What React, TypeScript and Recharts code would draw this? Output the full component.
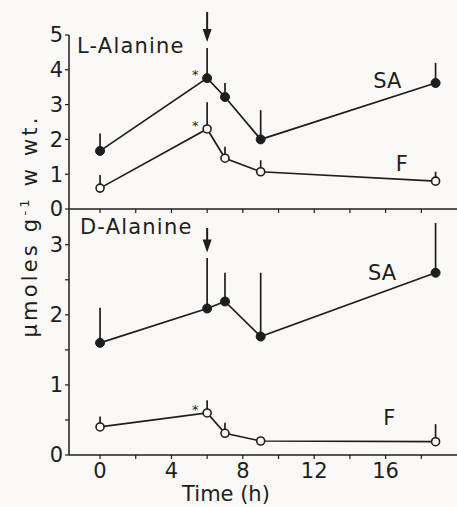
import React from 'react';
import { LineChart, Line, XAxis, YAxis, ErrorBar, LabelList, ReferenceLine, ReferenceDot } from 'recharts';

const times = [0, 6, 7, 9, 18.8];

// L-Alanine panel
const lSA = [1.67, 3.76, 3.22, 2.0, 3.62];
const lSAErr = [0.5, 0.87, 0.4, 0.84, 0.58];
const lSAStar = ['', '*', '', '', ''];
const lF = [0.6, 2.3, 1.46, 1.07, 0.8];
const lFErr = [0.38, 0.77, 0.33, 0.33, 0.27];
const lFStar = ['', '*', '', '', ''];

// D-Alanine panel
const dSA = [1.6, 2.09, 2.19, 1.69, 2.6];
const dSAErr = [0.5, 0.72, 0.41, 0.91, 0.71];
const dSAStar = ['', '', '', '', ''];
const dF = [0.4, 0.6, 0.31, 0.2, 0.19];
const dFErr = [0.15, 0.18, 0.15, 0.05, 0.25];
const dFStar = ['', '*', '', '', ''];

const xTicks = [0, 2, 4, 6, 8, 10, 12, 14, 16, 18];
const lTicks = [0, 1, 2, 3, 4, 5];
const dTicks = [0, 0.5, 1, 1.5, 2, 2.5, 3];

const topData = times.map((t, i) => ({
  t,
  sa: lSA[i], saErr: [0, lSAErr[i]], saStar: lSAStar[i],
  f: lF[i], fErr: [0, lFErr[i]], fStar: lFStar[i],
}));
const botData = times.map((t, i) => ({
  t,
  sa: dSA[i], saErr: [0, dSAErr[i]], saStar: dSAStar[i],
  f: dF[i], fErr: [0, dFErr[i]], fStar: dFStar[i],
}));

const INK = '#1e1e1e';
const BG = '#fbf9f6';
const FONT = '"DejaVu Sans", sans-serif';
const tickStyle = { fill: INK, fontSize: 21, fontFamily: FONT };

const Star = (props: any) => {
  const { x, y, value } = props;
  if (!value) return null;
  return (
    <text x={x - 12} y={y + 1} fontSize={13} fill={INK} fontFamily={FONT} textAnchor="middle">
      {value}
    </text>
  );
};

const Arrow = (props: any) => {
  const { x1, y1, x2, y2 } = props;
  return (
    <g>
      <line x1={x1} y1={y1} x2={x2} y2={y2 - 10} stroke={INK} strokeWidth={2} />
      <polygon points={`${x2 - 4.5},${y2 - 13} ${x2 + 4.5},${y2 - 13} ${x2},${y2}`} fill={INK} />
    </g>
  );
};

const seriesText = { fill: INK, fontSize: 21, fontFamily: FONT };

const Panel = ({ data, top, height, marginTop, axisH, yDomain, yTicks, yFmt, xFmt, arrow, saLabel, fLabel, xLabel }: any) => (
  <div style={{ position: 'absolute', left: 0, top }}>
    <LineChart width={457} height={height} data={data} margin={{ top: marginTop, right: 0, left: 0, bottom: 0 }}>
      <XAxis
        dataKey="t"
        type="number"
        domain={[-1.74, 20]}
        ticks={xTicks}
        tickFormatter={xFmt}
        height={axisH}
        tickSize={4}
        tickMargin={4}
        tick={tickStyle}
        axisLine={{ stroke: INK, strokeWidth: 1.5 }}
        tickLine={{ stroke: INK, strokeWidth: 1.2 }}
        allowDataOverflow
        label={xLabel ? { value: 'Time (h)', position: 'insideBottom', offset: 6, dx: -37, style: tickStyle } : undefined}
      />
      <YAxis
        type="number"
        domain={yDomain}
        ticks={yTicks}
        tickFormatter={yFmt}
        width={69}
        tickSize={4}
        tickMargin={2}
        tick={tickStyle}
        axisLine={{ stroke: INK, strokeWidth: 1.5 }}
        tickLine={{ stroke: INK, strokeWidth: 1.2 }}
        allowDataOverflow
        interval={0}
      />
      <ReferenceLine
        segment={[{ x: 6, y: arrow[0] }, { x: 6, y: arrow[1] }]}
        ifOverflow="visible"
        shape={Arrow}
      />
      <Line
        dataKey="sa"
        stroke={INK}
        strokeWidth={1.7}
        isAnimationActive={false}
        dot={{ r: 4.5, fill: INK, stroke: INK, strokeWidth: 1 }}
        activeDot={false}
      >
        <ErrorBar dataKey="saErr" direction="y" width={0} stroke={INK} strokeWidth={1.7} />
        <LabelList dataKey="saStar" content={Star} />
      </Line>
      <Line
        dataKey="f"
        stroke={INK}
        strokeWidth={1.7}
        isAnimationActive={false}
        dot={{ r: 4, fill: BG, stroke: INK, strokeWidth: 1.6 }}
        activeDot={false}
      >
        <ErrorBar dataKey="fErr" direction="y" width={0} stroke={INK} strokeWidth={1.7} />
        <LabelList dataKey="fStar" content={Star} />
      </Line>
      <ReferenceDot x={saLabel[0]} y={saLabel[1]} r={0} fill="none" stroke="none"
        label={{ value: 'SA', position: 'center', style: seriesText }} />
      <ReferenceDot x={fLabel[0]} y={fLabel[1]} r={0} fill="none" stroke="none"
        label={{ value: 'F', position: 'center', style: seriesText }} />
    </LineChart>
  </div>
);

export default function App() {
  return (
    <div style={{ position: 'absolute', left: 0, top: 0, width: 457, height: 507, background: BG, overflow: 'hidden' }}>
      <Panel
        data={botData}
        top={200}
        height={307}
        marginTop={9}
        axisH={52}
        yDomain={[0, 3.51]}
        yTicks={dTicks}
        yFmt={(v: number) => (Number.isInteger(v) ? String(v) : '')}
        xFmt={(v: number) => (v % 4 === 0 && v <= 16 ? String(v) : '')}
        arrow={[3.24, 2.89]}
        saLabel={[15.8, 2.61]}
        fLabel={[16.2, 0.53]}
        xLabel={true}
      />
      <Panel
        data={topData}
        top={0}
        height={225}
        marginTop={35}
        axisH={16}
        yDomain={[0, 5]}
        yTicks={lTicks}
        yFmt={(v: number) => String(v)}
        xFmt={() => ''}
        arrow={[5.66, 4.8]}
        saLabel={[16.1, 3.7]}
        fLabel={[16.9, 1.32]}
        xLabel={false}
      />
      <svg width={457} height={507} style={{ position: 'absolute', left: 0, top: 0, pointerEvents: 'none' }}>
        <text x={77} y={53} fontSize={21} fill={INK} fontFamily={FONT} letterSpacing={1.2}>L-Alanine</text>
        <text x={80} y={234} fontSize={21} fill={INK} fontFamily={FONT} letterSpacing={1.2}>D-Alanine</text>
        <text
          transform="translate(37, 226) rotate(-90)"
          textAnchor="middle"
          fontSize={21}
          fill={INK}
          fontFamily={FONT}
          letterSpacing={3.2}
        >
          µmoles g<tspan dy={-8} fontSize={13}>-1</tspan><tspan dy={8}> w wt.</tspan>
        </text>
      </svg>
    </div>
  );
}
